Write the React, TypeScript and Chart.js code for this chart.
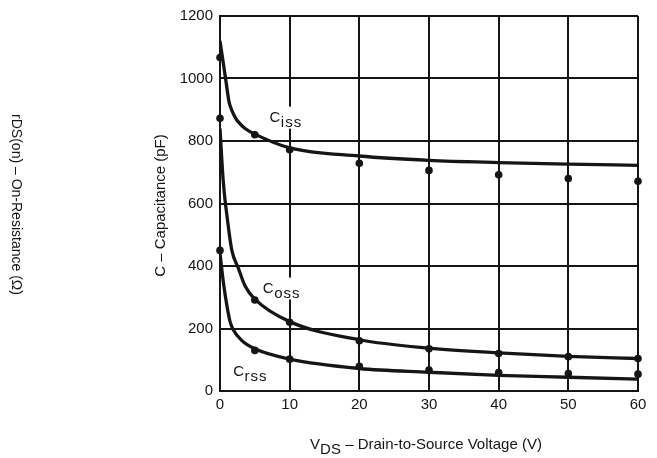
import React, { useEffect, useRef } from 'react';
import { Chart, registerables } from 'chart.js';

Chart.register(...registerables);

// Measured capacitance points (VDS in volts, C in pF)
const measuredVds = [0, 5, 10, 20, 30, 40, 50, 60];
const cissMeasured = [1067, 820, 772, 729, 706, 692, 680, 671];
const cossMeasured = [873, 291, 220, 161, 135, 120, 110, 104];
const crssMeasured = [450, 130, 102, 79, 67, 59, 56, 54];

// Typical curves
const cissCurveVds = [0, 0.8, 1.3, 1.7, 2.2, 2.6, 3.6, 5, 10, 20, 30, 40, 50, 60];
const cissCurve = [1120, 1000, 925, 898, 875, 862, 840, 822, 778, 752, 738, 731, 726, 722];

const cossCurveVds = [0, 0.47, 1.1, 1.7, 2.6, 3.6, 5, 10, 20, 30, 40, 50, 60];
const cossCurve = [840, 670, 543, 450, 395, 336, 294, 222, 164, 137, 122, 111, 104];

const crssCurveVds = [0, 0.5, 1.0, 1.44, 1.9, 3.1, 5, 10, 20, 30, 40, 50, 60];
const crssCurve = [440, 345, 272, 222, 196, 162, 135, 102, 72, 60, 50, 44, 38];

const xMin = 0;
const xMax = 60;
const xStep = 10;
const yMin = 0;
const yMax = 1200;
const yStep = 200;

const seriesNames = ['iss', 'oss', 'rss'];
const xTitleMain = 'V';
const xTitleSub = 'DS';
const xTitleRest = ' \u2013 Drain-to-Source Voltage (V)';
const yTitle = 'C \u2013 Capacitance (pF)';
const leftTitleMain = 'r';
const leftTitleSub = 'DS(on)';
const leftTitleRest = ' \u2013 On-Resistance (\u03A9)';

const FONT = "'Liberation Sans', Arial, Helvetica, sans-serif";
const INK = '#151515';

const toXY = (xs: number[], ys: number[]) => xs.map((v, i) => ({ x: v, y: ys[i] }));

// label anchors in data units (VDS, pF) for the curve names
const labelAnchors = [
  { v: 7.1, c: 862 },
  { v: 6.15, c: 315 },
  { v: 1.9, c: 49 },
];

const textPlugin = {
  id: 'textPlugin',
  beforeDatasetsDraw(chart: any) {
    const { ctx } = chart;
    const xs = chart.scales.x;
    const ys = chart.scales.y;
    ctx.save();
    ctx.font = `15px ${FONT}`;
    ctx.textBaseline = 'alphabetic';
    ctx.textAlign = 'left';
    seriesNames.forEach((sub, i) => {
      const a = labelAnchors[i];
      const px = xs.getPixelForValue(a.v);
      const py = ys.getPixelForValue(a.c);
      const wMain = ctx.measureText('C').width;
      const wSub = ctx.measureText(sub).width + 3;
      ctx.fillStyle = '#ffffff';
      ctx.fillRect(px - 3, py - 15, wMain + wSub + 5, 22);
      ctx.fillStyle = INK;
      ctx.fillText('C', px, py);
      ctx.save();
      (ctx as any).letterSpacing = '1px';
      ctx.fillText(sub, px + wMain + 0.5, py + 5.5);
      ctx.restore();
    });
    ctx.restore();
  },
  afterDraw(chart: any) {
    const { ctx, chartArea } = chart;
    ctx.save();
    ctx.fillStyle = INK;
    ctx.textBaseline = 'alphabetic';
    ctx.textAlign = 'left';

    // X axis title
    ctx.font = `15px ${FONT}`;
    const w1 = ctx.measureText(xTitleMain).width;
    const w2 = ctx.measureText(xTitleSub).width;
    const w3 = ctx.measureText(xTitleRest).width;
    const total = w1 + w2 + w3;
    const cx = (chartArea.left + chartArea.right) / 2 - 3;
    const bx = cx - total / 2;
    const by = chartArea.bottom + 57.5;
    ctx.fillText(xTitleMain, bx, by);
    ctx.fillText(xTitleSub, bx + w1, by + 5.5);
    ctx.fillText(xTitleRest, bx + w1 + w2, by);

    // Y axis title (reads bottom to top)
    ctx.save();
    ctx.translate(chartArea.left - 55.5, (chartArea.top + chartArea.bottom) / 2 + 2);
    ctx.rotate(-Math.PI / 2);
    ctx.textAlign = 'center';
    ctx.fillText(yTitle, 0, 0);
    ctx.restore();

    // Left title (reads top to bottom)
    ctx.save();
    ctx.font = `14px ${FONT}`;
    const l1 = ctx.measureText(leftTitleMain).width;
    const l2 = ctx.measureText(leftTitleSub).width;
    const l3 = ctx.measureText(leftTitleRest).width;
    const lt = l1 + l2 + l3;
    ctx.translate(12, (chartArea.top + chartArea.bottom) / 2 + 1);
    ctx.rotate(Math.PI / 2);
    ctx.textAlign = 'left';
    const sx = -lt / 2;
    ctx.fillText(leftTitleMain, sx, 0);
    ctx.fillText(leftTitleSub, sx + l1, 0);
    ctx.fillText(leftTitleRest, sx + l1 + l2, 0);
    ctx.restore();

    ctx.restore();
  },
};

export default function App() {
  const canvasRef = useRef<HTMLCanvasElement | null>(null);

  useEffect(() => {
    const canvas = canvasRef.current;
    if (!canvas) return;
    const curveStyle = {
      type: 'line' as const,
      showLine: true,
      borderColor: INK,
      borderWidth: 3.3,
      pointRadius: 0,
      cubicInterpolationMode: 'monotone' as const,
      fill: false,
      order: 2,
    };
    const dotStyle = {
      type: 'scatter' as const,
      showLine: false,
      pointRadius: 3.8,
      pointBackgroundColor: INK,
      pointBorderWidth: 0,
      clip: false,
      order: 1,
    };
    const chart = new Chart(canvas, {
      type: 'scatter',
      data: {
        datasets: [
          { ...curveStyle, label: 'Ciss curve', data: toXY(cissCurveVds, cissCurve) },
          { ...curveStyle, label: 'Coss curve', data: toXY(cossCurveVds, cossCurve) },
          { ...curveStyle, label: 'Crss curve', data: toXY(crssCurveVds, crssCurve) },
          { ...dotStyle, label: 'Ciss', data: toXY(measuredVds, cissMeasured) },
          { ...dotStyle, label: 'Coss', data: toXY(measuredVds, cossMeasured) },
          { ...dotStyle, label: 'Crss', data: toXY(measuredVds, crssMeasured) },
        ] as any,
      },
      options: {
        animation: false,
        responsive: false,
        devicePixelRatio: 1,
        layout: { padding: { left: 0, top: 13, right: 19, bottom: 0 } },
        plugins: {
          legend: { display: false },
          tooltip: { enabled: false },
        },
        scales: {
          x: {
            type: 'linear',
            min: xMin,
            max: xMax,
            ticks: {
              stepSize: xStep,
              color: INK,
              font: { family: FONT, size: 15 },
              padding: 5,
              maxRotation: 0,
              callback: (v: any) => String(v),
            },
            grid: { color: INK, lineWidth: 2, drawTicks: false },
            border: { color: INK, width: 2 },
            afterFit: (s: any) => {
              s.height = 67;
            },
          },
          y: {
            type: 'linear',
            min: yMin,
            max: yMax,
            ticks: {
              stepSize: yStep,
              color: INK,
              font: { family: FONT, size: 15 },
              padding: 7,
              callback: (v: any) => String(v),
            },
            grid: { color: INK, lineWidth: 2, drawTicks: false },
            border: { color: INK, width: 2 },
            afterFit: (s: any) => {
              s.width = 220;
            },
          },
        },
      },
      plugins: [textPlugin],
    });
    return () => chart.destroy();
  }, []);

  return (
    <div style={{ position: 'absolute', left: 0, top: 0, width: 657, height: 458, background: '#fff' }}>
      <canvas ref={canvasRef} width={657} height={458} style={{ display: 'block' }} />
    </div>
  );
}
